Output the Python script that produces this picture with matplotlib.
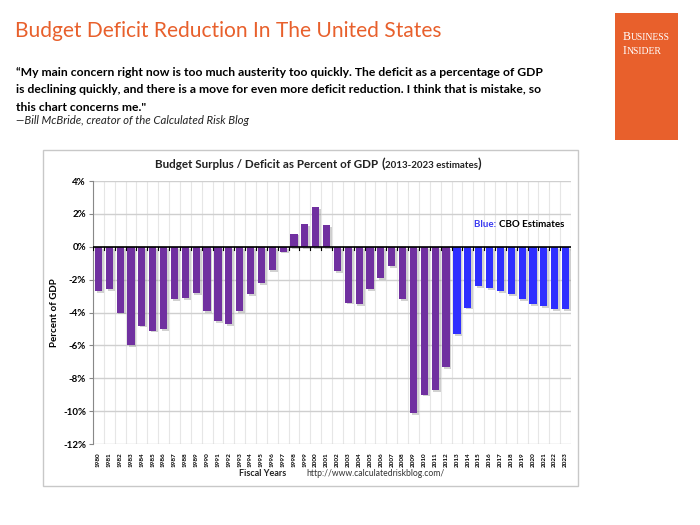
import matplotlib
matplotlib.use("Agg")
import matplotlib.pyplot as plt
import matplotlib.patheffects as pe
from matplotlib.patches import Rectangle
import numpy as np

years = list(range(1980, 2024))
values = [-2.7, -2.6, -4.0, -6.0, -4.8, -5.1, -5.0, -3.2, -3.1, -2.8,
          -3.9, -4.5, -4.7, -3.9, -2.9, -2.2, -1.4, -0.3, 0.8, 1.4,
          2.4, 1.3, -1.5, -3.4, -3.5, -2.6, -1.9, -1.2, -3.2, -10.1,
          -9.0, -8.7, -7.3, -5.3, -3.7, -2.4, -2.5, -2.7, -2.9, -3.2,
          -3.5, -3.6, -3.8, -3.8]
estimate_start = 2013
yticks = [4, 2, 0, -2, -4, -6, -8, -10, -12]
ytick_labels = [f"{t}%" for t in yticks]

PURPLE = "#7030A0"
BLUE = "#2F2FFF"
ORANGE = "#E8602C"
FONT = ["Lato", "DejaVu Sans"]

W, H = 700, 525
fig = plt.figure(figsize=(7, 5.25), dpi=100)
fig.patch.set_facecolor("white")
renderer = fig.canvas.get_renderer()

def fx(px):
    return px / W

def fy(py):
    return 1 - py / H

def run(x0, y0, parts):
    """Place consecutive text runs starting at pixel x0 on baseline y0."""
    xpos = x0
    for txt, kw in parts:
        t = fig.text(fx(xpos), fy(y0), txt, ha="left", va="baseline", **kw)
        bb = t.get_window_extent(renderer=renderer)
        xpos += bb.width
    return xpos

# Header
fig.text(fx(15), fy(31), "Budget Deficit Reduction In The United States",
         color=ORANGE, fontsize=15.1, family=FONT, va="center", ha="left")
quote = ("\u201cMy main concern right now is too much austerity too quickly. The deficit as a percentage of GDP\n"
         "is declining quickly, and there is a move for even more deficit reduction. I think that is mistake, so\n"
         "this chart concerns me.\"")
fig.text(fx(16), fy(67), quote, color="black", fontsize=8.75, family=FONT,
         weight="bold", va="top", ha="left", linespacing=1.72)
fig.text(fx(16), fy(121), "\u2014Bill McBride, creator of the Calculated Risk Blog",
         color="#222222", fontsize=8.2, family=FONT, style="italic", va="center", ha="left")

# Business Insider box
fig.patches.append(Rectangle((fx(615), fy(140)), fx(678) - fx(615), fy(13) - fy(140),
                             transform=fig.transFigure, facecolor=ORANGE,
                             edgecolor="none", zorder=-2))
SERIF = "Liberation Serif"
run(623, 40, [("B", dict(color="white", fontsize=8.6, family=SERIF)),
              ("USINESS", dict(color="white", fontsize=6.9, family=SERIF))])
run(623, 54, [("I", dict(color="white", fontsize=8.6, family=SERIF)),
              ("NSIDER", dict(color="white", fontsize=6.9, family=SERIF))])

# Chart frame
fig.patches.append(Rectangle((fx(43), fy(486)), fx(578) - fx(43), fy(150) - fy(486),
                             transform=fig.transFigure, facecolor="white",
                             edgecolor="#C8C8C8", linewidth=1.0, zorder=-1))

ax = fig.add_axes([fx(93), fy(444), fx(571) - fx(93), fy(181) - fy(444)])
ax.set_zorder(2)
ax.patch.set_alpha(0)
x = np.arange(len(years))
colors = [BLUE if y >= estimate_start else PURPLE for y in years]
bars = ax.bar(x, values, width=0.66, color=colors, zorder=3)
for b in bars:
    b.set_path_effects([pe.SimplePatchShadow(offset=(1.3, -1.3), shadow_rgbFace="#999999", alpha=0.45),
                        pe.Normal()])

ax.set_xlim(-0.5, len(years) - 0.5)
ax.set_ylim(-12, 4)
ax.set_yticks(yticks)
ax.set_yticklabels(ytick_labels, fontsize=7, weight="bold", family=FONT)
ax.set_xticks(x)
ax.set_xticklabels([str(y) for y in years], rotation=90, fontsize=4.6,
                   weight="bold", family=FONT)
ax.tick_params(axis="x", length=0, pad=6)
ax.tick_params(axis="y", length=3, color="#888888", pad=2)

for t in yticks:
    ax.axhline(t, color="#CFCFCF", linewidth=1.0, zorder=1)
for b in np.arange(-0.5, len(years), 1.0):
    ax.axvline(b, color="#E6E6E6", linewidth=0.8, zorder=0.5)
ax.axhline(0, color="black", linewidth=1.2, zorder=4)
for b in np.arange(-0.5, len(years), 1.0):
    ax.plot([b, b], [0, -0.18], color="black", linewidth=0.8, zorder=4)

for s in ["top", "right", "bottom"]:
    ax.spines[s].set_visible(False)
ax.spines["left"].set_color("#888888")

ax.set_ylabel("Percent of GDP", fontsize=7, weight="bold", family=FONT, labelpad=3)

# Chart title
tkw = dict(weight="bold", family=FONT, color="#222222")
run(155, 168, [("Budget Surplus / Deficit as Percent of GDP ", dict(fontsize=8.4, **tkw)),
               ("(", dict(fontsize=9.5, **tkw)),
               ("2013-2023 estimates", dict(fontsize=7, **tkw)),
               (")", dict(fontsize=9.5, **tkw))])

run(474, 227, [("Blue: ", dict(fontsize=7, weight="bold", family=FONT, color="#3A3AF0")),
               ("CBO Estimates", dict(fontsize=7, weight="bold", family=FONT, color="black"))])

fig.text(fx(263), fy(474), "Fiscal Years", fontsize=6.5, weight="bold", family=FONT,
         ha="center", va="center", color="#222222")
fig.text(fx(306), fy(474), "http://www.calculatedriskblog.com/", fontsize=6.2,
         family=FONT, ha="left", va="center", color="#333333")

fig.savefig("out.png", dpi=100)
